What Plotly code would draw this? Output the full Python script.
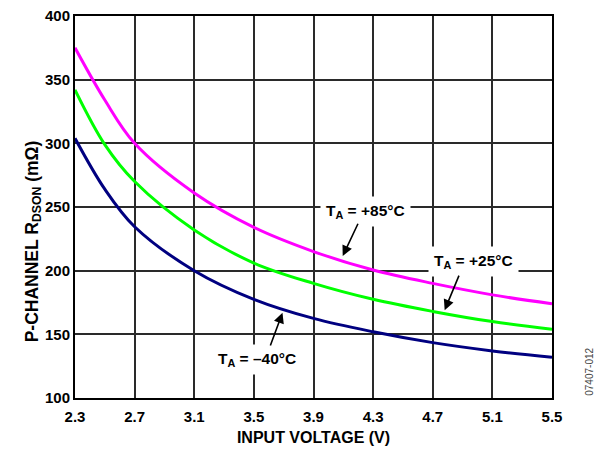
import plotly.graph_objects as go

# Input voltage (V) sample points
vin = [2.3, 2.5, 2.7, 3.1, 3.5, 3.9, 4.3, 4.7, 5.1, 5.5]

# P-channel on-resistance (mΩ) at each ambient temperature
rdson_85 = [375, 334, 300, 261, 234, 215, 200.5, 190, 181, 174]
rdson_25 = [342, 299, 270, 232, 206, 190, 177.5, 168, 160, 154]
rdson_m40 = [304, 264, 234.5, 200, 177.5, 162.5, 152, 143.5, 137, 132]

x_ticks = [2.3, 2.7, 3.1, 3.5, 3.9, 4.3, 4.7, 5.1, 5.5]
x_tick_text = ["2.3", "2.7", "3.1", "3.5", "3.9", "4.3", "4.7", "5.1", "5.5"]
y_ticks = [100, 150, 200, 250, 300, 350, 400]
y_tick_text = ["100", "150", "200", "250", "300", "350", "400"]

FONT = "Liberation Sans, Arial, sans-serif"

# plot area in pixels
L, R, T, B = 75, 552.5, 15.7, 397.7
W_PX, H_PX = 602, 449

fig = go.Figure()
for y, color in [(rdson_85, "#FF00FF"), (rdson_25, "#00FF00"), (rdson_m40, "#000080")]:
    fig.add_trace(go.Scatter(
        x=vin, y=y, mode="lines",
        line=dict(color=color, width=3, shape="spline", smoothing=1.0),
        showlegend=False, hoverinfo="skip",
    ))

axis_common = dict(
    showgrid=True, gridcolor="#2a2a2a", gridwidth=1.5,
    showline=True, linecolor="#000000", linewidth=2, mirror=True,
    ticks="", zeroline=False, automargin=False,
    tickfont=dict(family=FONT, size=15, color="#000000", weight="bold"),
)

fig.update_xaxes(
    range=[2.3, 5.5], tickvals=x_ticks, ticktext=x_tick_text,
    ticklabelstandoff=4,
    title=dict(text="INPUT VOLTAGE (V)", standoff=8,
               font=dict(family=FONT, size=16, color="#000000", weight="bold")),
    **axis_common,
)
fig.update_yaxes(
    range=[100, 400], tickvals=y_ticks, ticktext=y_tick_text,
    **axis_common,
)

# Y-axis title placed as a rotated annotation
fig.add_annotation(
    x=(33 - L) / (R - L), y=(B - 241) / (B - T),
    xref="paper", yref="paper", xanchor="center", yanchor="middle",
    text="P-CHANNEL R<sub>DSON</sub> (mΩ)", showarrow=False, textangle=-90,
    font=dict(family=FONT, size=17.5, color="#000000", weight="bold"),
)

label_font = dict(family=FONT, size=15.5, color="#000000", weight="bold")

# Curve labels on white boxes that break the grid
labels = [
    ("T<sub>A</sub> = +85°C", 4.25, 246.5),
    ("T<sub>A</sub> = +25°C", 4.975, 207.5),
    ("T<sub>A</sub> = –40°C", 3.52, 130.5),
]
for text, x, y in labels:
    fig.add_annotation(
        x=x, y=y, xref="x", yref="y", text=text, showarrow=False,
        font=label_font, bgcolor="#FFFFFF", borderpad=5,
    )

# Arrows pointing from each label to its curve (head x, y; tail ax, ay)
arrows = [
    (4.096, 211.5, 4.203, 238.0),
    (4.780, 169.0, 4.880, 197.3),
    (3.692, 167.0, 3.607, 140.0),
]
for x, y, ax, ay in arrows:
    fig.add_annotation(
        x=x, y=y, ax=ax, ay=ay, xref="x", yref="y", axref="x", ayref="y",
        text="", showarrow=True, arrowhead=2, arrowsize=1.3,
        arrowwidth=1.6, arrowcolor="#000000",
    )

# Figure code along the right edge
fig.add_annotation(
    x=(590 - L) / (R - L), y=(B - 371) / (B - T),
    xref="paper", yref="paper", text="07407-012",
    showarrow=False, textangle=-90, xanchor="center", yanchor="middle",
    font=dict(family=FONT, size=10, color="#444444"),
)

fig.update_layout(
    width=W_PX, height=H_PX,
    margin=dict(l=L, r=W_PX - R, t=T, b=H_PX - B, autoexpand=False),
    paper_bgcolor="#FFFFFF", plot_bgcolor="#FFFFFF",
)

fig.write_html("out.html")
